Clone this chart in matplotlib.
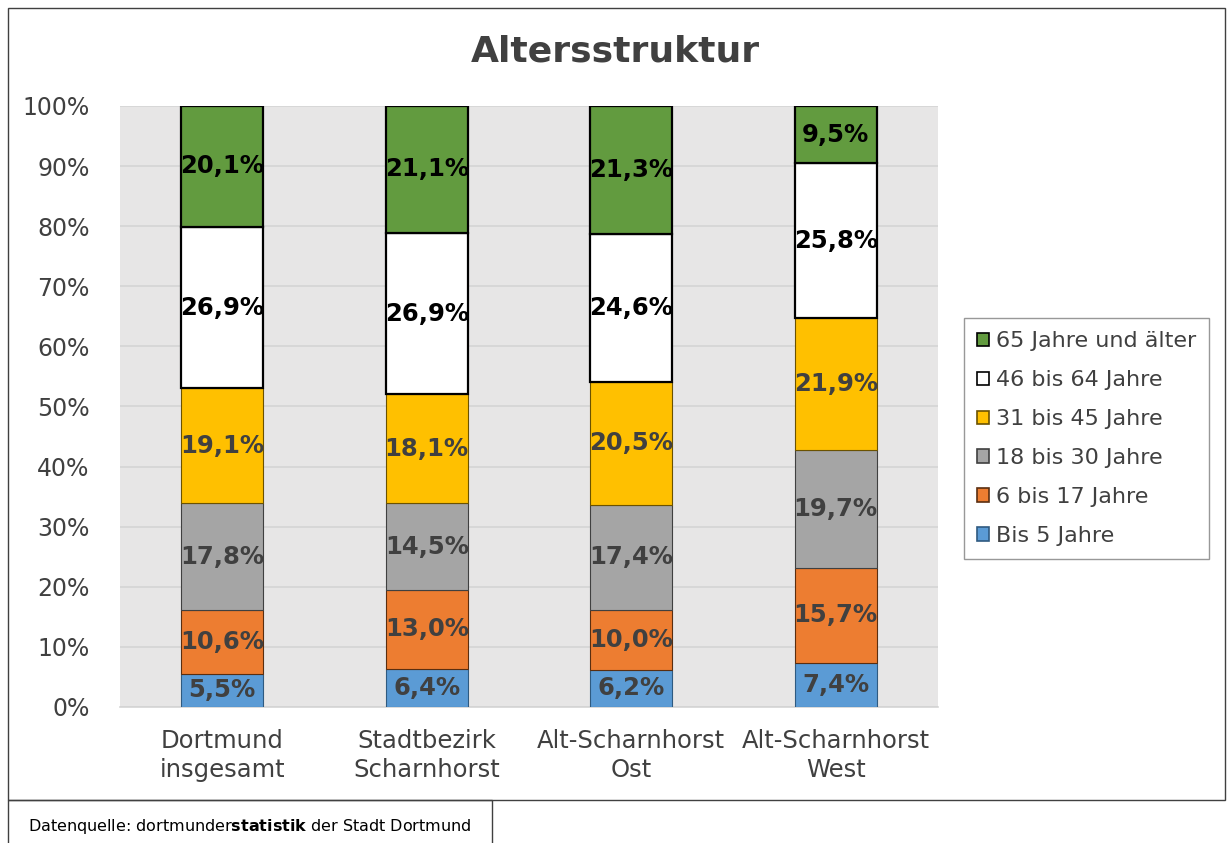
import matplotlib
matplotlib.use("Agg")
import matplotlib.pyplot as plt
from matplotlib.patches import Rectangle, Patch

categories = ["Dortmund\ninsgesamt", "Stadtbezirk\nScharnhorst", "Alt-Scharnhorst\nOst", "Alt-Scharnhorst\nWest"]
groups = ["Bis 5 Jahre", "6 bis 17 Jahre", "18 bis 30 Jahre", "31 bis 45 Jahre", "46 bis 64 Jahre", "65 Jahre und älter"]
bis5 = [5.5, 6.4, 6.2, 7.4]
bis17 = [10.6, 13.0, 10.0, 15.7]
bis30 = [17.8, 14.5, 17.4, 19.7]
bis45 = [19.1, 18.1, 20.5, 21.9]
bis64 = [26.9, 26.9, 24.6, 25.8]
ab65 = [20.1, 21.1, 21.3, 9.5]
series = [bis5, bis17, bis30, bis45, bis64, ab65]

colors = ["#5b9bd5", "#ed7d31", "#a5a5a5", "#ffc000", "#ffffff", "#629b3f"]
edges = ["#2f5a80", "#5a2e10", "#404040", "#6b5200", "#000000", "#000000"]
lws = [0.8, 0.8, 0.8, 0.8, 1.6, 1.6]
label_colors = ["#404040", "#404040", "#404040", "#404040", "#000000", "#000000"]

W, H = 1229, 843
fig = plt.figure(figsize=(W / 100, H / 100), dpi=100)
fig.patch.set_facecolor("white")

# outer frame and footer box
fig.patches.append(Rectangle((8 / W, 1 - 800 / H), 1217 / W, 792 / H, transform=fig.transFigure,
                             fill=False, edgecolor="#404040", lw=1.0))
fig.patches.append(Rectangle((8 / W, -0.01), 484 / W, 43 / H + 0.01, transform=fig.transFigure,
                             fill=False, edgecolor="#404040", lw=1.0))

ax = fig.add_axes([120 / W, 1 - 707 / H, 818 / W, 601 / H])
ax.set_facecolor("#e7e6e6")
x = range(len(categories))
bottom = [0.0] * len(categories)
for vals, name, c, ec, lw, lc in zip(series, groups, colors, edges, lws, label_colors):
    bars = ax.bar(x, vals, width=0.40, bottom=bottom, color=c, edgecolor=ec, linewidth=lw, label=name, zorder=3)
    for b, v, bt in zip(bars, vals, bottom):
        ax.text(b.get_x() + b.get_width() / 2, bt + v / 2, f"{v:.1f}%".replace(".", ","),
                ha="center", va="center", fontsize=17.5, fontweight="bold", color=lc, zorder=4)
    bottom = [b + v for b, v in zip(bottom, vals)]

ax.set_xlim(-0.5, 3.5)
ax.set_ylim(0, 100)
ax.set_yticks(range(0, 101, 10))
ax.set_yticklabels([f"{t}%" for t in range(0, 101, 10)])
ax.set_xticks(list(x))
ax.set_xticklabels(categories, linespacing=1.25)
ax.tick_params(axis="y", length=0, pad=22, labelsize=17, labelcolor="#404040")
ax.tick_params(axis="x", length=0, pad=16, labelsize=17.5, labelcolor="#404040")
ax.yaxis.grid(True, color="#d4d4d4", lw=1.2, zorder=0)
for s in ["top", "right", "left"]:
    ax.spines[s].set_visible(False)
ax.spines["bottom"].set_color("#d4d4d4")
ax.spines["bottom"].set_linewidth(1.2)

fig.text(615 / W, 1 - 52 / H, "Altersstruktur", ha="center", va="center",
         fontsize=26, fontweight="bold", color="#404040")

handles = [Patch(facecolor=c, edgecolor=ec, lw=1.2) for c, ec in zip(colors, edges)][::-1]
leg = fig.legend(handles, groups[::-1], loc="center", bbox_to_anchor=(1086.5 / W, 1 - 438.5 / H),
                 fontsize=16, frameon=True, fancybox=False, handlelength=0.55, handleheight=0.55,
                 handletextpad=0.3, labelspacing=0.85, borderpad=0.6, labelcolor="#404040")
leg.get_frame().set_edgecolor("#7f7f7f")
leg.get_frame().set_linewidth(1.0)

# footer with bold word
fig.text(28 / W, 1 - 827 / H, r"Datenquelle: dortmunder$\mathbf{statistik}$ der Stadt Dortmund",
         fontsize=11.5, va="center")

fig.savefig("out.png", dpi=100)
